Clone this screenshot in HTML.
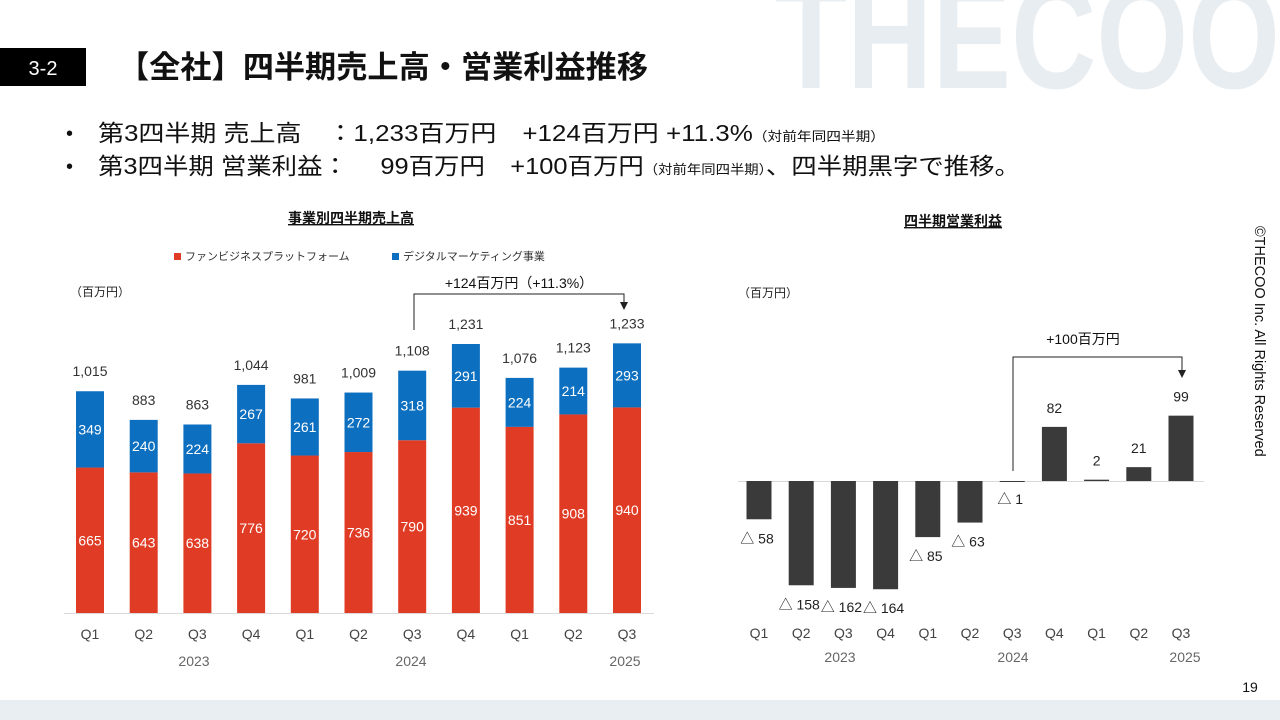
<!DOCTYPE html>
<html><head><meta charset="utf-8"><style>
html,body{margin:0;padding:0;background:#fff;}
body{width:1280px;height:720px;position:relative;overflow:hidden;font-family:"Liberation Sans","Noto Sans CJK JP",sans-serif;}
</style></head><body>
<svg width="1280" height="720" xmlns="http://www.w3.org/2000/svg" style="position:absolute;left:0;top:0;font-family:'Liberation Sans','Noto Sans CJK JP',sans-serif">
<text x="775" y="88" font-size="150" font-weight="bold" fill="#e8edf1" textLength="505" lengthAdjust="spacingAndGlyphs">THECOO</text>
<rect x="0" y="700" width="1280" height="20" fill="#e9eef3"/>
<rect x="0" y="48" width="86" height="38" fill="#000"/>
<text x="43" y="75" font-size="20" fill="#fff" text-anchor="middle">3-2</text>
<text x="118" y="78" font-size="31" font-weight="bold" fill="#111" textLength="530" lengthAdjust="spacingAndGlyphs">【全社】四半期売上高・営業利益推移</text>
<text x="66" y="140" font-size="20" fill="#111">•</text>
<text x="98" y="141" font-size="23" fill="#111" textLength="787" lengthAdjust="spacingAndGlyphs">第3四半期 売上高　：1,233百万円　+124百万円 +11.3%<tspan font-size="13">（対前年同四半期）</tspan></text>
<text x="66" y="173" font-size="20" fill="#111">•</text>
<text x="98" y="174" font-size="23" fill="#111" textLength="922" lengthAdjust="spacingAndGlyphs">第3四半期 営業利益：　  99百万円　+100百万円<tspan font-size="13">（対前年同四半期）</tspan>、四半期黒字で推移。</text>
<text x="351" y="223" font-size="14" font-weight="bold" fill="#111" text-anchor="middle" text-decoration="underline">事業別四半期売上高</text>
<rect x="174" y="253" width="7" height="7" fill="#e03c25"/>
<text x="185" y="260" font-size="11" fill="#333">ファンビジネスプラットフォーム</text>
<rect x="392" y="253" width="7" height="7" fill="#0d6fbf"/>
<text x="403" y="260" font-size="11" fill="#333">デジタルマーケティング事業</text>
<text x="70" y="296" font-size="12" fill="#222">（百万円）</text>
<line x1="64" y1="613.5" x2="654" y2="613.5" stroke="#d9d9d9"/>
<g id="L"></g>
<path d="M414 330 V294 H624 V303" fill="none" stroke="#222" stroke-width="1"/>
<path d="M620 302 L628 302 L624 310 Z" fill="#222"/>
<text x="519" y="288" font-size="14" fill="#111" text-anchor="middle">+124百万円（+11.3%）</text>
<text x="953" y="226" font-size="14" font-weight="bold" fill="#111" text-anchor="middle" text-decoration="underline">四半期営業利益</text>
<text x="738" y="297" font-size="12" fill="#222">（百万円）</text>
<line x1="738" y1="481.5" x2="1204" y2="481.5" stroke="#d9d9d9"/>
<g id="R"></g>
<path d="M1013 471 V357 H1182 V371" fill="none" stroke="#222"/>
<path d="M1178 370 L1186 370 L1182 378 Z" fill="#222"/>
<text x="1083" y="344" font-size="14" fill="#111" text-anchor="middle">+100百万円</text>
<text transform="translate(1255,226) rotate(90)" font-size="14.5" fill="#111">©THECOO Inc. All Rights Reserved</text>
<text x="1250" y="692" font-size="14" fill="#111" text-anchor="middle">19</text>
</svg>
<script>
var ns="http://www.w3.org/2000/svg";
function el(g,t,a,txt){var e=document.createElementNS(ns,t);for(var k in a)e.setAttribute(k,a[k]);if(txt!=null)e.textContent=txt;g.appendChild(e);return e;}
var L=document.getElementById("L"),R=document.getElementById("R");
var red=[665,643,638,776,720,736,790,939,851,908,940],blue=[349,240,224,267,261,272,318,291,224,214,293];
var tot=["1,015","883","863","1,044","981","1,009","1,108","1,231","1,076","1,123","1,233"];
var q=["Q1","Q2","Q3","Q4","Q1","Q2","Q3","Q4","Q1","Q2","Q3"];
var s=0.2187,base=613;
for(var i=0;i<11;i++){var cx=90+i*53.7,hr=red[i]*s,hb=blue[i]*s;
el(L,"rect",{x:cx-14,y:base-hr,width:28,height:hr,fill:"#e03c25"});
el(L,"rect",{x:cx-14,y:base-hr-hb,width:28,height:hb,fill:"#0d6fbf"});
el(L,"text",{x:cx,y:base-hr/2+5,"font-size":14,fill:"#fff","text-anchor":"middle"},red[i]);
el(L,"text",{x:cx,y:base-hr-hb/2+5,"font-size":14,fill:"#fff","text-anchor":"middle"},blue[i]);
el(L,"text",{x:cx,y:base-hr-hb-15,"font-size":14,fill:"#333","text-anchor":"middle"},tot[i]);
el(L,"text",{x:cx,y:639,"font-size":14,fill:"#444","text-anchor":"middle"},q[i]);}
[["2023",194],["2024",411],["2025",625]].forEach(function(a){el(L,"text",{x:a[1],y:666,"font-size":14,fill:"#666","text-anchor":"middle"},a[0]);});
var op=[-58,-158,-162,-164,-85,-63,-1,82,2,21,99],z=481,rs=0.66;
for(var i=0;i<11;i++){var cx=759+i*42.2,v=op[i],h=Math.abs(v)*rs;
el(R,"rect",{x:cx-12.5,y:v>0?z-h:z,width:25,height:Math.max(h,1),fill:"#3a3a3a"});
var lbl=v<0?"△ "+(-v):""+v;
var ly=v<0?z+h+24:z-h-14;
if(i==6)ly=z+23;
el(R,"text",{x:cx+(v<0?-2:0),y:ly,"font-size":14,fill:"#222","text-anchor":"middle"},lbl);
el(R,"text",{x:cx,y:638,"font-size":14,fill:"#444","text-anchor":"middle"},q[i]);}
[["2023",840],["2024",1013],["2025",1185]].forEach(function(a){el(R,"text",{x:a[1],y:662,"font-size":14,fill:"#666","text-anchor":"middle"},a[0]);});
</script>
</body></html>
